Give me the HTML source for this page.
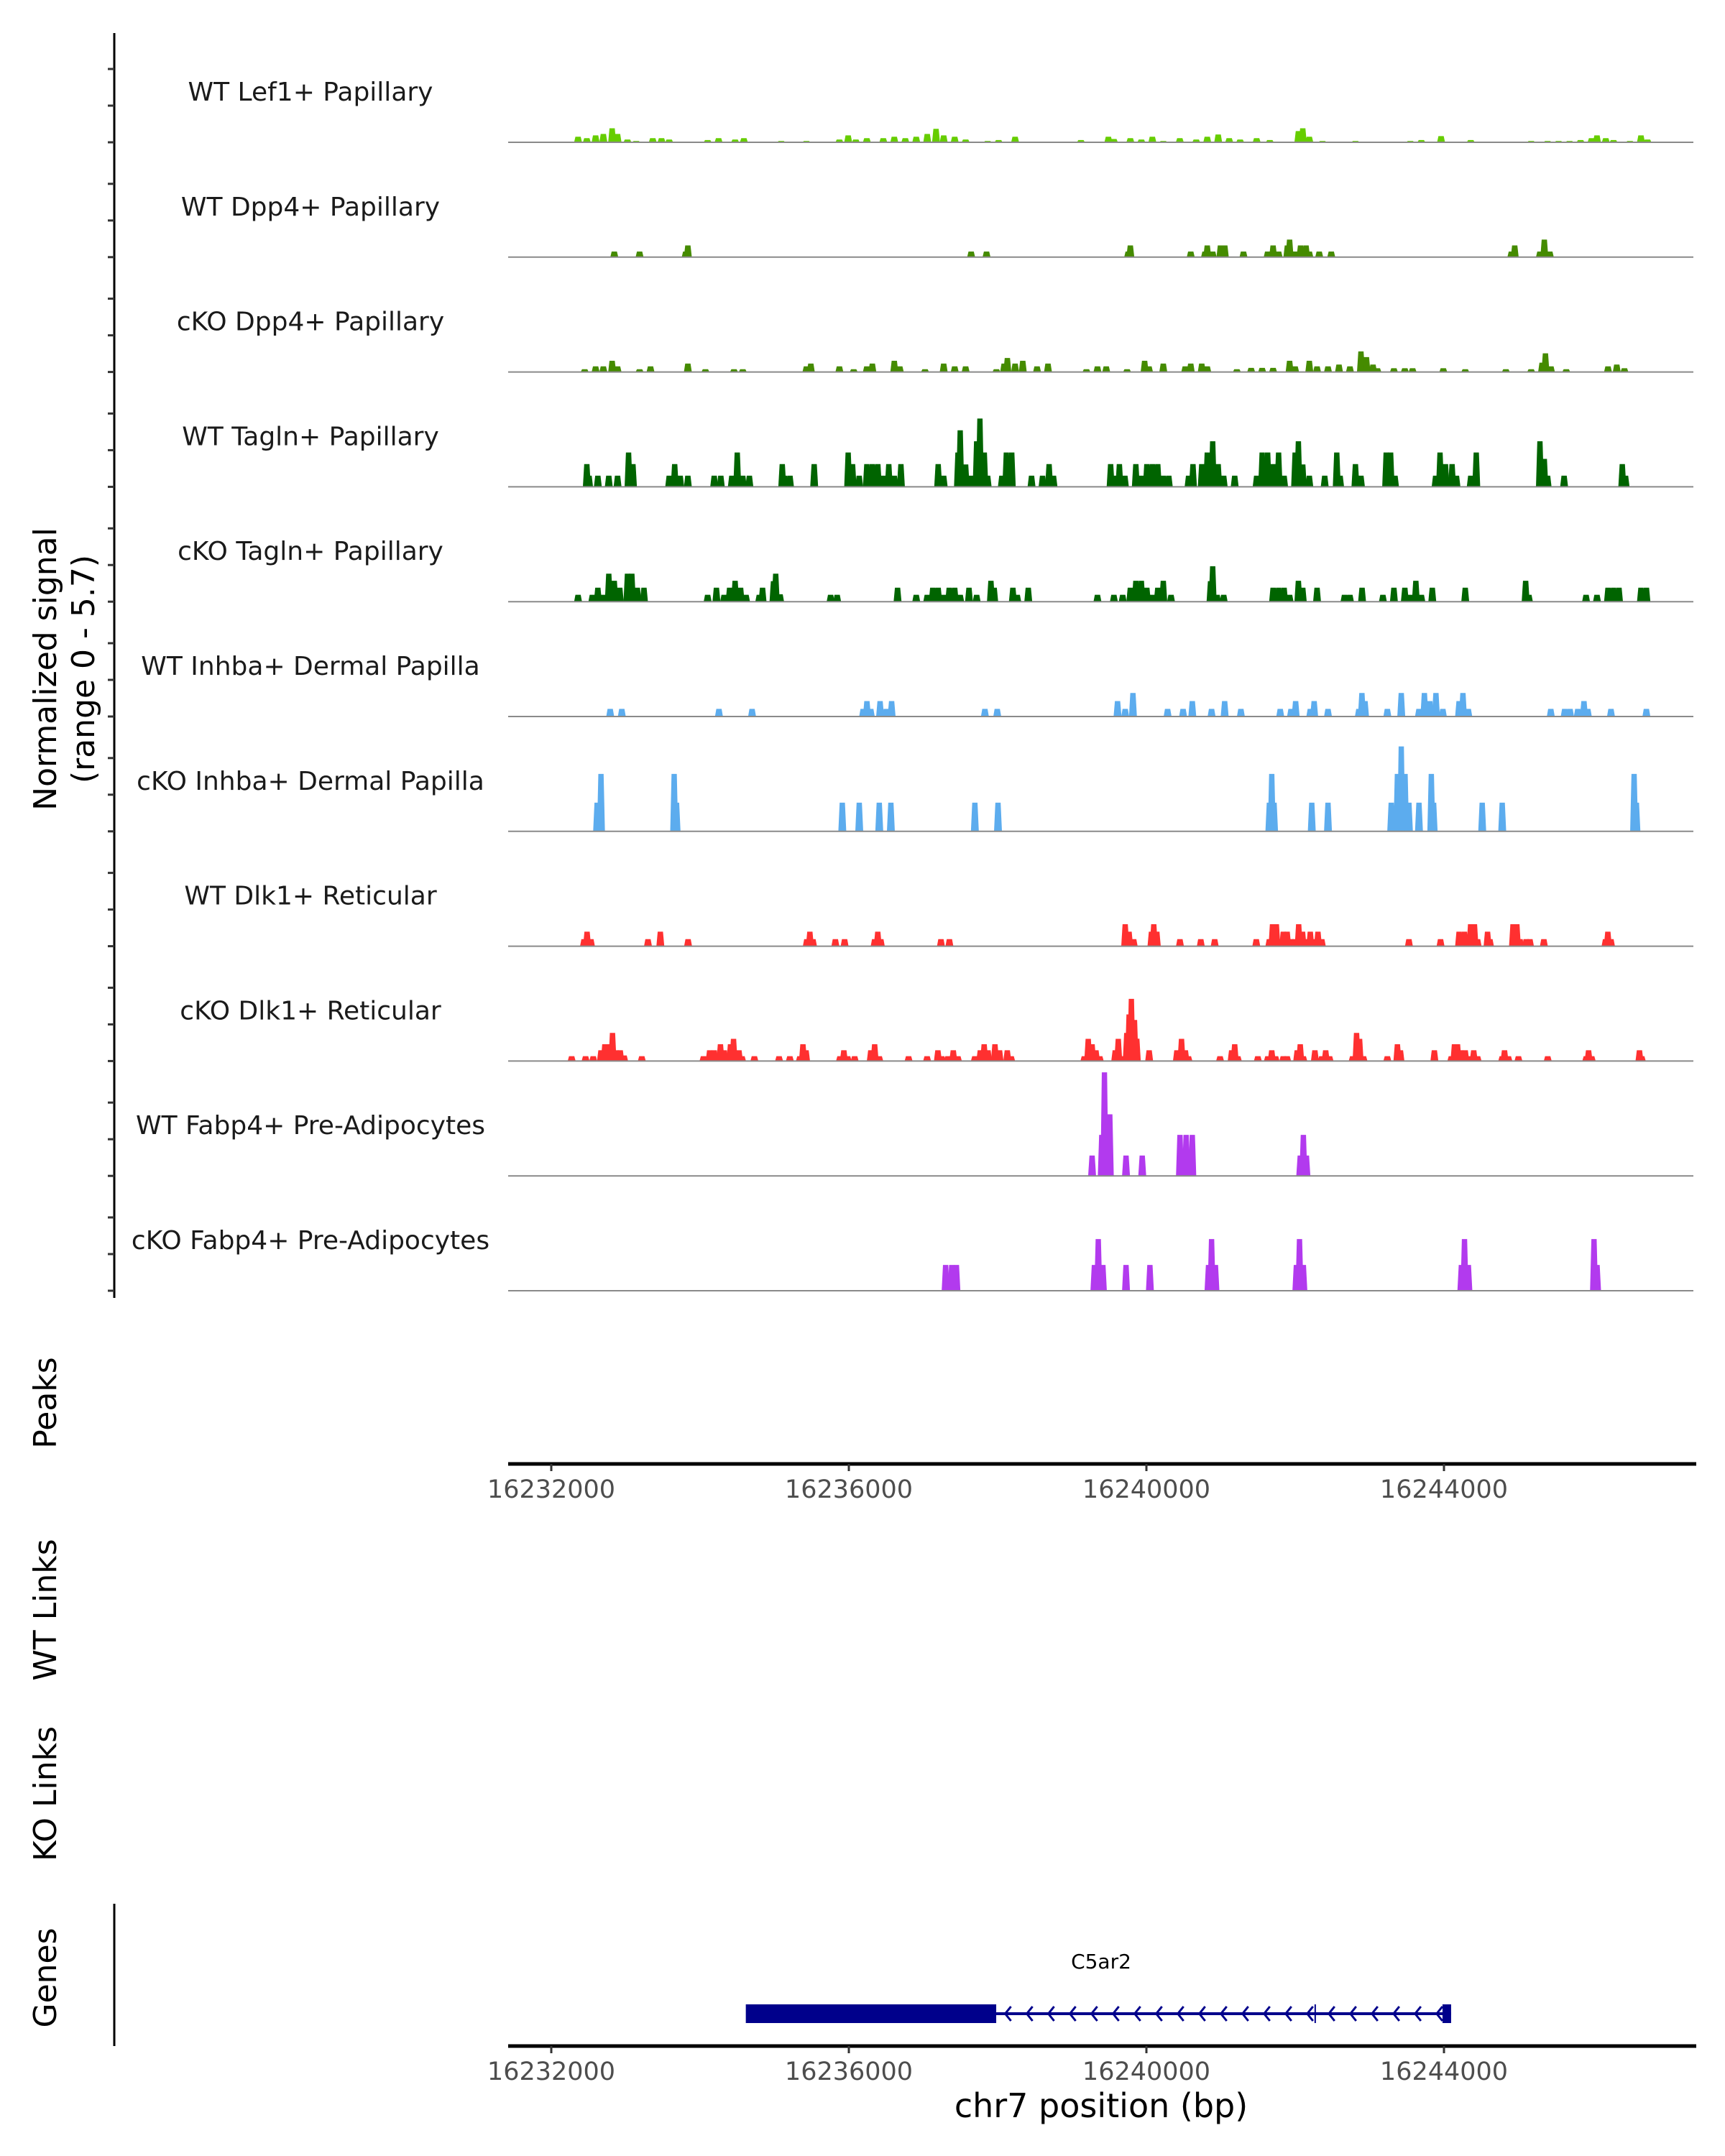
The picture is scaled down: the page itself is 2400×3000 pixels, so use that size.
<!DOCTYPE html>
<html><head><meta charset="utf-8"><style>
html,body{margin:0;padding:0;background:#fff;}
svg{display:block;font-family:"DejaVu Sans","Liberation Sans",sans-serif;}
</style></head><body>
<svg id="chart" width="2400" height="3000" viewBox="0 0 2400 3000" xmlns="http://www.w3.org/2000/svg">
<rect width="2400" height="3000" fill="#fff"/>
</svg>
<script>
const xTicks=[16232000,16236000,16240000,16244000];
const trackNames=["WT Lef1+ Papillary","WT Dpp4+ Papillary","cKO Dpp4+ Papillary","WT Tagln+ Papillary","cKO Tagln+ Papillary","WT Inhba+ Dermal Papilla","cKO Inhba+ Dermal Papilla","WT Dlk1+ Reticular","cKO Dlk1+ Reticular","WT Fabp4+ Pre-Adipocytes","cKO Fabp4+ Pre-Adipocytes"];
const trackColors=["#66CD00","#458B00","#458B00","#006400","#006400","#5CACEE","#5CACEE","#FF3030","#FF3030","#B23AEE","#B23AEE"];
const lef1WtPos=[16232360,16232478,16232596,16232700,16232818,16232891,16233024,16233142,16233364,16233482,16233585,16234102,16234249,16234471,16234589,16235091,16235430,16235873,16235991,16236094,16236242,16236463,16236611,16236759,16236906,16237054,16237172,16237275,16237423,16237570,16237866,16238013,16238235,16239120,16239489,16239563,16239784,16239932,16240080,16240227,16240449,16240670,16240818,16240965,16241113,16241260,16241482,16241659,16242043,16242102,16242190,16242367,16242810,16243548,16243696,16243961,16244360,16245172,16245393,16245541,16245688,16245836,16245984,16246057,16246175,16246279,16246500,16246648,16246736];
const lef1WtVal=[0.3,0.22,0.37,0.45,0.75,0.45,0.15,0.07,0.22,0.22,0.15,0.12,0.22,0.15,0.22,0.07,0.07,0.15,0.37,0.15,0.22,0.22,0.3,0.22,0.3,0.45,0.72,0.37,0.3,0.15,0.07,0.12,0.3,0.12,0.3,0.18,0.22,0.15,0.3,0.07,0.22,0.15,0.3,0.42,0.22,0.15,0.22,0.12,0.6,0.75,0.3,0.07,0.07,0.07,0.12,0.33,0.12,0.07,0.07,0.07,0.07,0.12,0.22,0.37,0.22,0.12,0.07,0.37,0.15];
const dpp4WtPos=[16232847,16233187,16233807,16233836,16237644,16237851,16239755,16239784,16240596,16240788,16240818,16240891,16240995,16241054,16241305,16241630,16241703,16241777,16241895,16241925,16241999,16242072,16242146,16242190,16242323,16242485,16244906,16244951,16245290,16245349,16245423];
const dpp4WtVal=[0.3,0.3,0.3,0.63,0.3,0.3,0.3,0.63,0.3,0.3,0.63,0.3,0.63,0.63,0.3,0.3,0.63,0.3,0.63,0.94,0.3,0.63,0.63,0.3,0.3,0.3,0.3,0.63,0.3,0.94,0.3];
const dpp4KoPos=[16232449,16232596,16232700,16232818,16232891,16233187,16233334,16233836,16234072,16234456,16234574,16235430,16235489,16235873,16236065,16236242,16236316,16236611,16236685,16237024,16237275,16237423,16237570,16237984,16238087,16238131,16238235,16238338,16238530,16238677,16239194,16239342,16239460,16239740,16239976,16240035,16240227,16240522,16240596,16240744,16240818,16241216,16241408,16241556,16241703,16241925,16241999,16242190,16242294,16242441,16242589,16242736,16242884,16242958,16243046,16243105,16243327,16243474,16243578,16243991,16244286,16244832,16245172,16245319,16245364,16245438,16245644,16246205,16246323,16246426];
const dpp4KoVal=[0.15,0.3,0.3,0.6,0.3,0.15,0.3,0.45,0.15,0.15,0.15,0.3,0.45,0.3,0.15,0.3,0.45,0.6,0.3,0.15,0.45,0.3,0.3,0.15,0.45,0.75,0.45,0.6,0.3,0.45,0.15,0.3,0.3,0.15,0.6,0.3,0.45,0.3,0.45,0.45,0.3,0.15,0.22,0.22,0.22,0.6,0.3,0.6,0.3,0.3,0.4,0.3,1.1,0.8,0.4,0.2,0.2,0.2,0.2,0.2,0.15,0.15,0.15,0.5,1.0,0.3,0.15,0.3,0.4,0.2];
const taglnWtPos=[16232478,16232508,16232626,16232773,16232891,16233039,16233098,16233585,16233659,16233733,16233836,16234190,16234279,16234427,16234500,16234574,16234663,16235105,16235135,16235209,16235534,16235991,16236050,16236139,16236242,16236316,16236390,16236463,16236537,16236611,16236700,16237201,16237275,16237467,16237497,16237570,16237644,16237718,16237762,16237821,16237866,16238057,16238117,16238190,16238456,16238604,16238692,16238751,16239519,16239563,16239637,16239711,16239858,16239932,16240006,16240080,16240153,16240227,16240301,16240567,16240626,16240744,16240818,16240891,16240965,16241039,16241187,16241482,16241556,16241630,16241703,16241777,16241851,16241999,16242043,16242102,16242190,16242397,16242559,16242604,16242810,16242884,16243223,16243283,16243342,16243888,16243947,16244020,16244109,16244168,16244360,16244434,16245290,16245349,16245393,16245615,16246397,16246441];
const taglnWtVal=[1.22,0.6,0.6,0.6,0.6,1.84,1.22,0.6,1.22,0.6,0.6,0.6,0.6,0.6,1.84,0.6,0.6,1.22,0.6,0.6,1.22,1.84,1.22,0.6,1.22,1.22,1.22,0.6,1.22,0.6,1.22,1.22,0.6,1.84,3.03,1.2,0.6,2.44,3.66,1.84,0.6,0.6,1.84,1.84,0.6,0.6,1.22,0.6,1.22,0.6,1.22,0.6,1.22,0.6,1.22,1.22,1.22,0.6,0.6,0.6,1.22,1.22,1.84,2.44,1.22,0.6,0.6,0.6,1.84,1.84,1.22,1.84,0.6,1.84,2.44,1.2,0.6,0.6,1.84,0.6,1.22,0.6,1.84,1.84,0.6,0.6,1.84,1.22,1.22,0.6,0.6,1.84,2.44,1.5,0.6,0.6,1.22,0.6];
const taglnKoPos=[16232360,16232552,16232626,16232700,16232773,16232847,16232921,16233024,16233083,16233157,16233246,16234102,16234220,16234323,16234397,16234471,16234545,16234618,16234796,16234840,16234987,16235017,16235076,16235755,16235843,16236655,16236906,16237054,16237128,16237201,16237275,16237349,16237423,16237497,16237615,16237718,16237910,16237954,16238205,16238264,16238412,16239342,16239563,16239681,16239784,16239858,16239932,16240006,16240080,16240153,16240227,16240331,16240862,16240891,16240950,16241039,16241703,16241777,16241851,16241925,16242043,16242102,16242294,16242663,16242736,16242899,16243179,16243327,16243474,16243548,16243622,16243696,16243843,16244286,16245098,16245142,16245910,16246057,16246205,16246279,16246353,16246648,16246722];
const taglnKoVal=[0.37,0.37,0.75,0.37,1.5,1.12,0.75,1.5,1.5,0.75,0.75,0.37,0.75,0.37,0.75,1.12,0.75,0.37,0.37,0.75,1.1,1.5,0.4,0.37,0.37,0.75,0.37,0.37,0.75,0.75,0.37,0.75,0.75,0.37,0.75,0.37,1.12,0.75,0.75,0.37,0.75,0.37,0.37,0.37,0.75,1.12,1.12,0.75,0.37,0.75,1.12,0.37,1.1,1.9,0.37,0.37,0.75,0.75,0.75,0.37,1.12,0.75,0.75,0.37,0.37,0.75,0.37,0.75,0.75,0.37,1.12,0.37,0.75,0.75,1.12,0.37,0.37,0.37,0.75,0.75,0.75,0.75,0.75];
const inhbaWtPos=[16232792,16232948,16234254,16234699,16236192,16236243,16236295,16236420,16236503,16236575,16237829,16237995,16239612,16239715,16239819,16240285,16240493,16240617,16240876,16241052,16241270,16241799,16241944,16242006,16242203,16242255,16242441,16242856,16242897,16242939,16243239,16243426,16243664,16243737,16243809,16243892,16243985,16244203,16244255,16244327,16245436,16245623,16245695,16245799,16245882,16245934,16246245,16246721];
const inhbaWtVal=[0.41,0.41,0.41,0.41,0.41,0.83,0.41,0.83,0.41,0.83,0.41,0.41,0.83,0.41,1.26,0.41,0.41,0.83,0.41,0.83,0.41,0.41,0.41,0.83,0.41,0.83,0.41,0.41,1.26,0.83,0.41,1.26,0.41,1.26,0.83,1.26,0.41,0.83,1.26,0.41,0.41,0.41,0.41,0.41,0.83,0.41,0.41,0.41];
const inhbaKoPos=[16232616,16232668,16233652,16233684,16235912,16236140,16236409,16236565,16237694,16238005,16241653,16241685,16241716,16242223,16242441,16243291,16243374,16243426,16243477,16243529,16243664,16243830,16243861,16244514,16244783,16246556,16246587];
const inhbaKoVal=[1.54,3.08,3.08,1.54,1.54,1.54,1.54,1.54,1.54,1.54,1.54,3.08,1.54,1.54,1.54,1.54,3.08,4.55,3.08,1.54,1.54,3.08,1.54,1.54,1.54,3.08,1.54];
const dlk1WtPos=[16232440,16232481,16232533,16233300,16233466,16233839,16235435,16235476,16235518,16235819,16235943,16236347,16236389,16236430,16237238,16237352,16239715,16239767,16239829,16240068,16240099,16240140,16240451,16240731,16240918,16241477,16241653,16241695,16241747,16241788,16241840,16241892,16241944,16241995,16242047,16242099,16242151,16242203,16242255,16242306,16242358,16243529,16243954,16244203,16244275,16244327,16244358,16244410,16244452,16244586,16244618,16244928,16244980,16245022,16245105,16245156,16245343,16246172,16246203,16246245];
const dlk1WtVal=[0.38,0.78,0.38,0.38,0.78,0.38,0.38,0.78,0.38,0.38,0.38,0.38,0.78,0.38,0.38,0.38,1.18,0.78,0.38,0.78,1.18,0.78,0.38,0.38,0.38,0.38,0.38,1.18,1.18,0.38,0.78,0.78,0.38,0.38,1.18,0.78,0.38,0.78,0.38,0.78,0.38,0.38,0.38,0.78,0.78,0.38,1.18,1.18,0.38,0.78,0.38,1.18,1.18,0.38,0.38,0.38,0.38,0.38,0.78,0.38];
const dlk1KoPos=[16232274,16232461,16232564,16232668,16232720,16232772,16232823,16232875,16232927,16232979,16233217,16234046,16234129,16234191,16234274,16234326,16234409,16234450,16234523,16234564,16234730,16235062,16235207,16235342,16235383,16235425,16235881,16235933,16235984,16236078,16236295,16236347,16236409,16236803,16237052,16237197,16237249,16237332,16237404,16237466,16237694,16237767,16237819,16237871,16237964,16238026,16238130,16238182,16239166,16239218,16239270,16239322,16239373,16239581,16239622,16239684,16239736,16239767,16239798,16239840,16239871,16240037,16240410,16240472,16240524,16240565,16240990,16241146,16241187,16241229,16241498,16241633,16241685,16241736,16241840,16241892,16242027,16242068,16242109,16242265,16242358,16242410,16242462,16242773,16242825,16242866,16242918,16243239,16243374,16243415,16243871,16244099,16244141,16244182,16244224,16244286,16244348,16244400,16244452,16244783,16244814,16244866,16245001,16245395,16245913,16245944,16245986,16246628,16246659];
const dlk1KoVal=[0.26,0.26,0.26,0.58,0.9,0.9,1.51,0.58,0.58,0.3,0.26,0.26,0.58,0.58,0.9,0.58,0.9,1.19,0.58,0.26,0.26,0.26,0.26,0.26,0.9,0.58,0.26,0.58,0.26,0.26,0.58,0.9,0.26,0.26,0.26,0.58,0.26,0.26,0.58,0.26,0.26,0.58,0.9,0.58,0.9,0.58,0.58,0.26,0.26,1.19,0.9,0.58,0.26,0.58,1.19,0.26,1.51,2.5,3.33,2.2,1.2,0.58,0.58,1.19,0.58,0.26,0.26,0.58,0.9,0.26,0.26,0.26,0.58,0.26,0.26,0.26,0.58,0.9,0.26,0.58,0.26,0.58,0.26,0.26,1.51,1.19,0.26,0.26,0.9,0.58,0.58,0.26,0.9,0.9,0.58,0.58,0.26,0.58,0.26,0.26,0.58,0.26,0.26,0.26,0.26,0.58,0.26,0.58,0.26];
const fabp4WtPos=[16239270,16239400,16239436,16239508,16239726,16239944,16240451,16240534,16240617,16242068,16242110,16242151];
const fabp4WtVal=[1.09,2.2,5.55,3.3,1.09,1.09,2.2,2.2,2.2,1.09,2.2,1.09];
const fabp4KoPos=[16237301,16237383,16237446,16239301,16239353,16239415,16239726,16240047,16240835,16240876,16240928,16242016,16242058,16242110,16244234,16244276,16244328,16246017,16246058];
const fabp4KoVal=[1.38,1.38,1.38,1.38,2.77,1.38,1.38,1.38,1.38,2.77,1.38,1.38,2.77,1.38,1.38,2.77,1.38,2.77,1.38];
const trackPos=[lef1WtPos,dpp4WtPos,dpp4KoPos,taglnWtPos,taglnKoPos,inhbaWtPos,inhbaKoPos,dlk1WtPos,dlk1KoPos,fabp4WtPos,fabp4KoPos];
const trackVal=[lef1WtVal,dpp4WtVal,dpp4KoVal,taglnWtVal,taglnKoVal,inhbaWtVal,inhbaKoVal,dlk1WtVal,dlk1KoVal,fabp4WtVal,fabp4KoVal];
const yMax=5.7;
const geneName="C5ar2";
const geneStart=16234615, geneThickEnd=16237981, geneEnd=16244096, geneMark=16242269;

const NS="http://www.w3.org/2000/svg";
const svg=document.getElementById('chart');
function xScale(bp){return 1595+(bp-16240000)*0.1035;}
const PX0=707, PX1=2356;
function base(i){return 198+i*159.8;}
function yScale(v,i){return base(i)-v/yMax*148;}
function mk(tag,attrs,parent){const e=document.createElementNS(NS,tag);for(const k in attrs)e.setAttribute(k,attrs[k]);(parent||svg).appendChild(e);return e;}

const ax=mk('line',{x1:159,y1:46,x2:159,y2:1806,stroke:'#000','stroke-width':3});


for(let i=0;i<trackNames.length;i++){
  for(let k=0;k<3;k++){
    const t=mk('line',{x1:150,x2:159,y1:base(i)-k*51,y2:base(i)-k*51,stroke:'#333','stroke-width':3});
    
    
  }
}
const yt=mk('text',{transform:'translate(78,931) rotate(-90)','text-anchor':'middle','font-size':44,fill:'#000'});
yt.textContent='Normalized signal';


const yt2=mk('text',{transform:'translate(131,931) rotate(-90)','text-anchor':'middle','font-size':44,fill:'#000'});
yt2.textContent='(range 0 - 5.7)';



for(let i=0;i<trackNames.length;i++){
  const g=mk('g',{});
  
  
  const lab=mk('text',{x:432,y:base(i)-58,'text-anchor':'middle','font-size':36,fill:'#1a1a1a'},g);
  lab.textContent=trackNames[i];
  
  
  const pos=trackPos[i], val=trackVal[i], b=base(i), w=11;
  for(let j=0;j<pos.length;j++){
    const x=xScale(pos[j]), y=yScale(val[j],i);
    const p=mk('polygon',{points:`${x-w/2},${b} ${x-w/3},${y} ${x+w/3},${y} ${x+w/2},${b}`,fill:trackColors[i]},g);
    
    
  }
  const bl=mk('line',{x1:PX0,x2:PX1,y1:b,y2:b,stroke:'#8a8a8a','stroke-width':2},g);
  
  
}

function xAxis(y,name){
  const g=mk('g',{});
  
  
  mk('line',{x1:PX0,x2:2360,y1:y,y2:y,stroke:'#000','stroke-width':5},g);
  xTicks.forEach(t=>{
    const x=xScale(t);
    mk('line',{x1:x,x2:x,y1:y,y2:y+10,stroke:'#333','stroke-width':3},g);
    const tl=mk('text',{x:x,y:y+47,'text-anchor':'middle','font-size':35,fill:'#4d4d4d'},g);
    tl.textContent=t;
    
    
  });
}
xAxis(2037,'peaks-x-axis');
xAxis(2847,'genes-x-axis');

function sideLabel(txt,y,name){
  const t=mk('text',{transform:`translate(78,${y}) rotate(-90)`,'text-anchor':'middle','font-size':44,fill:'#000'});
  t.textContent=txt;
  
  
}
sideLabel('Peaks',1952,'peaks-label');
sideLabel('WT Links',2240,'wt-links-label');
sideLabel('KO Links',2496,'ko-links-label');
sideLabel('Genes',2752,'genes-label');
const ga=mk('line',{x1:159,x2:159,y1:2649,y2:2847,stroke:'#000','stroke-width':3});



const gg=mk('g',{});


const gy=2802;
mk('line',{x1:xScale(geneThickEnd),x2:xScale(geneEnd),y1:gy,y2:gy,stroke:'#00008B','stroke-width':4},gg);
mk('rect',{x:xScale(geneStart),y:gy-13,width:xScale(geneThickEnd)-xScale(geneStart),height:26,fill:'#00008B'},gg);
mk('rect',{x:xScale(geneEnd)-12,y:gy-13,width:12,height:26,fill:'#00008B'},gg);
mk('line',{x1:xScale(geneMark),x2:xScale(geneMark),y1:gy-13,y2:gy+13,stroke:'#00008B','stroke-width':2},gg);
for(let bp=geneThickEnd+150;bp<geneEnd-50;bp+=290){
  const x=xScale(bp);
  mk('polyline',{points:`${x+5},${gy-10} ${x-3},${gy} ${x+5},${gy+10}`,fill:'none',stroke:'#00008B','stroke-width':3},gg);
}
const gl=mk('text',{x:1532,y:2739,'text-anchor':'middle','font-size':28,fill:'#000'},gg);
gl.textContent=geneName;



const xt=mk('text',{x:1532,y:2946,'text-anchor':'middle','font-size':46,fill:'#000'});
xt.textContent='chr7 position (bp)';


</script>
</body></html>
